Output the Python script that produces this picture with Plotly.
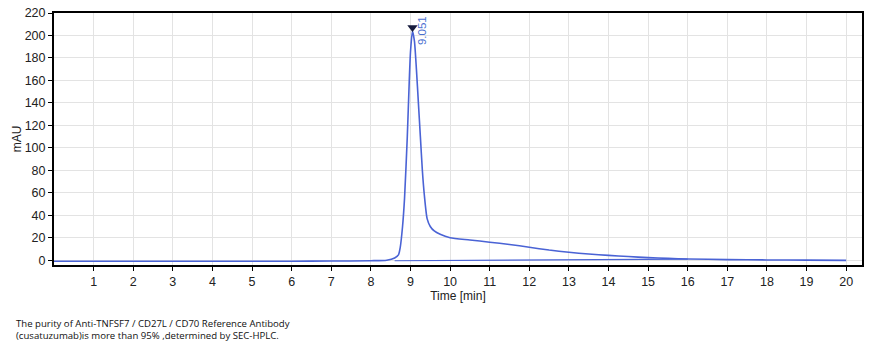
import plotly.graph_objects as go

# Chromatogram signal (time in min, absorbance in mAU)
time_min = [0, 2, 4, 6, 7.0, 8.0, 8.4, 8.6, 8.7, 8.74, 8.8, 8.85, 8.92, 8.97, 9.0, 9.05,
            9.1, 9.15, 9.2, 9.25, 9.3, 9.35, 9.42, 9.5, 9.6, 9.75, 10.0, 10.5, 11.0,
            11.5, 12.0, 12.5, 13.0, 13.5, 14.0, 14.5, 15.0, 15.5, 16.0, 17.0, 18.0, 19.0, 20.0]
signal_mau = [-0.9, -0.9, -0.9, -0.9, -0.8, -0.5, 0.0, 2.0, 5.0, 11.0, 30.0, 55.0, 110.0, 160.0, 185.0, 204.0,
              195.0, 170.0, 140.0, 110.0, 80.0, 58.0, 37.0, 30.0, 26.0, 23.0, 20.0, 18.0, 16.0,
              14.0, 11.5, 9.0, 7.0, 5.5, 4.3, 3.2, 2.3, 1.6, 1.1, 0.5, 0.2, 0.0, -0.2]

# Integration baseline
base_time = [8.6, 16.0]
base_mau = [-0.5, 1.0]

# Peak label
peak_time = [9.051]
peak_mau = [207]
peak_label = ["9.051"]

x_ticks = list(range(1, 21))
y_ticks = list(range(0, 221, 20))

line_color = "#4a63d5"

fig = go.Figure()
fig.add_trace(go.Scatter(x=time_min, y=signal_mau, mode="lines",
                         line=dict(color=line_color, width=1.6, shape="spline", smoothing=0.6),
                         showlegend=False, hoverinfo="skip"))
fig.add_trace(go.Scatter(x=base_time, y=base_mau, mode="lines",
                         line=dict(color=line_color, width=1.2),
                         showlegend=False, hoverinfo="skip"))
fig.add_trace(go.Scatter(x=peak_time, y=peak_mau, mode="markers",
                         marker=dict(symbol="triangle-down", size=9, color="#151a3c"),
                         showlegend=False, hoverinfo="skip"))
for t, v, lab in zip(peak_time, peak_mau, peak_label):
    fig.add_annotation(x=t, y=v, text=lab, textangle=-90, showarrow=False,
                       xanchor="left", yanchor="middle", xshift=1, yshift=-3,
                       font=dict(family="Liberation Sans, Arial", size=11.5, color="#4a6fd0"))

fig.add_annotation(xref="paper", yref="paper", x=-0.05, y=-0.2, xanchor="left", yanchor="top",
                   showarrow=False, align="left",
                   text="The purity of Anti-TNFSF7 / CD27L / CD70 Reference Antibody<br>(cusatuzumab)is more than 95% ,determined by SEC-HPLC.",
                   font=dict(family="Open Sans, Liberation Sans", size=9.6, color="#111"))

axis_common = dict(showline=True, linecolor="black", linewidth=2, mirror=True,
                   ticks="outside", ticklen=4, tickcolor="black", tickwidth=1,
                   showgrid=True, gridcolor="#e3e3e3", gridwidth=1, zeroline=False,
                   tickfont=dict(family="Liberation Sans, Arial", size=12.5, color="#222"))

fig.update_layout(
    width=874, height=350,
    margin=dict(l=54, r=12, t=6, b=85),
    paper_bgcolor="white", plot_bgcolor="white",
    xaxis=dict(range=[0, 20.4], tickvals=x_ticks, ticktext=[str(v) for v in x_ticks],
               title=dict(text="Time [min]", standoff=4,
                          font=dict(family="Liberation Sans, Arial", size=12, color="#222")),
               **axis_common),
    yaxis=dict(range=[-4.3, 220], tickvals=y_ticks, ticktext=[str(v) for v in y_ticks],
               title=dict(text="mAU", standoff=0,
                          font=dict(family="Liberation Sans, Arial", size=12, color="#222")),
               **axis_common),
)

fig.write_html("out.html")
